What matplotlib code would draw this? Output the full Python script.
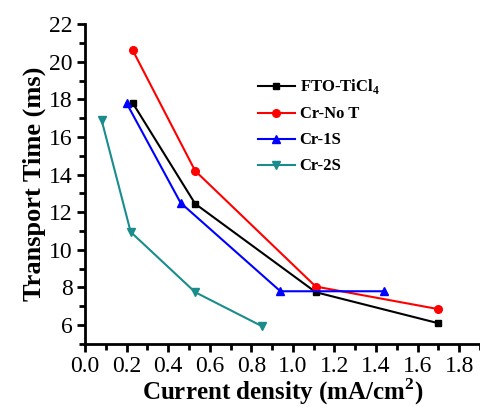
import matplotlib
matplotlib.use("Agg")
import matplotlib.pyplot as plt
from matplotlib.ticker import MultipleLocator

plt.rcParams['font.family'] = ['Liberation Serif', 'DejaVu Serif']
plt.rcParams['mathtext.fontset'] = 'custom'
plt.rcParams['mathtext.rm'] = 'Liberation Serif:bold'
plt.rcParams['mathtext.bf'] = 'Liberation Serif:bold'

# current density (mA/cm2) vs transport time (ms)
x_fto = [0.23, 0.53, 1.11, 1.70]
y_fto = [17.8, 12.45, 7.75, 6.1]
x_nt = [0.23, 0.53, 1.11, 1.70]
y_nt = [20.6, 14.2, 8.05, 6.85]
x_1s = [0.20, 0.46, 0.94, 1.44]
y_1s = [17.8, 12.5, 7.8, 7.8]
x_2s = [0.08, 0.22, 0.53, 0.85]
y_2s = [16.9, 10.95, 7.75, 5.95]

fig = plt.figure(figsize=(4.8, 4.08), dpi=100)
ax = fig.add_axes([0.177, 0.157, 0.823, 0.784])

ax.plot(x_fto, y_fto, 'k-', marker='s', ms=5, lw=1.5, label='FTO-TiCl$_4$')
ax.plot(x_nt, y_nt, '-', color='red', marker='o', ms=5.5, lw=1.5, label='Cr-No T')
ax.plot(x_1s, y_1s, '-', color='blue', marker='^', ms=5.5, lw=1.5, label='Cr-1S')
ax.plot(x_2s, y_2s, '-', color='#1a8c8c', marker='v', ms=5.5, lw=1.5, label='Cr-2S')

ax.set_xlim(0, 1.9)
ax.set_ylim(5, 22)
ax.xaxis.set_minor_locator(MultipleLocator(0.1))
ax.yaxis.set_minor_locator(MultipleLocator(1))
ax.set_xticks([0.0, 0.2, 0.4, 0.6, 0.8, 1.0, 1.2, 1.4, 1.6, 1.8])
ax.set_xticklabels(['0.0', '0.2', '0.4', '0.6', '0.8', '1.0', '1.2', '1.4', '1.6', '1.8'])
ax.set_yticks(range(6, 23, 2))

for s in ['top', 'right']:
    ax.spines[s].set_visible(False)
for s in ['left', 'bottom']:
    ax.spines[s].set_linewidth(2)
ax.tick_params(which='major', direction='out', length=6, width=2, labelsize=17, pad=3)
ax.tick_params(which='minor', direction='out', length=4, width=2)

ax.set_xlabel('Current density (mA/cm$^\\mathbf{2}$)', fontsize=18, fontweight='bold', labelpad=-1)
ax.set_ylabel('Transport Time (ms)', fontsize=19, fontweight='bold', labelpad=2)

ax.legend(loc='upper left', bbox_to_anchor=(0.4, 0.88), frameon=False,
          prop={'weight': 'bold', 'size': 12}, handlelength=2.2,
          handletextpad=0.3, labelspacing=0.6)

fig.savefig('out.png', dpi=100)
